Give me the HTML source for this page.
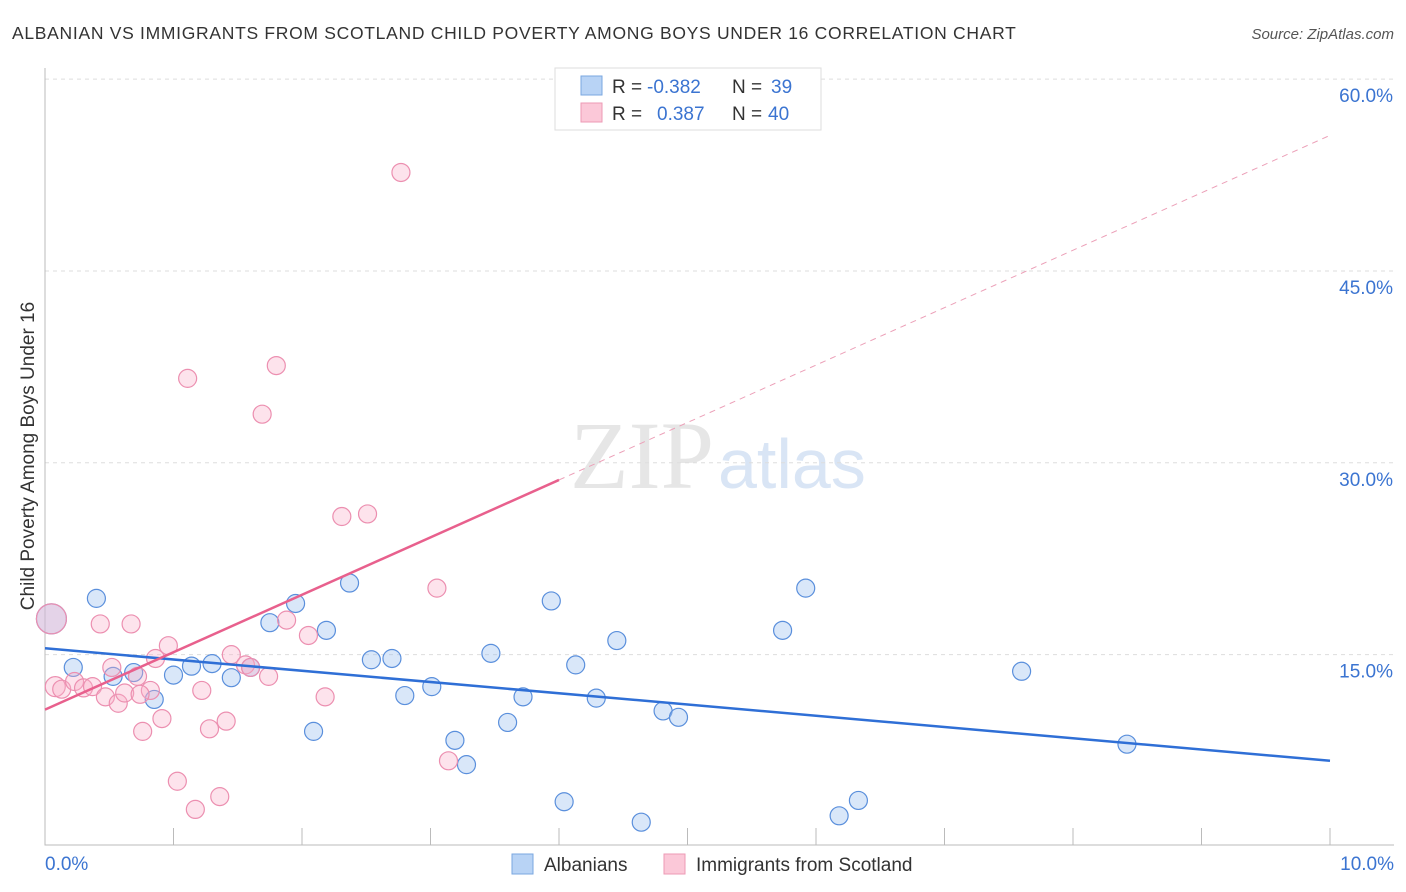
<!DOCTYPE html>
<html><head><meta charset="utf-8"><style>
body{margin:0;background:#fff;font-family:"Liberation Sans",sans-serif;}
#wrap{position:relative;width:1406px;height:892px;overflow:hidden;}
</style></head><body>
<div id="wrap">
<svg id="svg" width="1406" height="892" xmlns="http://www.w3.org/2000/svg">
<text x="12" y="39" font-size="17.5" fill="#333" letter-spacing="0.7">ALBANIAN VS IMMIGRANTS FROM SCOTLAND CHILD POVERTY AMONG BOYS UNDER 16 CORRELATION CHART</text>
<text x="1394" y="39" font-size="15" fill="#555" font-style="italic" text-anchor="end">Source: ZipAtlas.com</text>
<text x="714" y="488" font-size="96" fill="#e6e6e6" text-anchor="end" font-family="Liberation Serif,serif">ZIP</text>
<text x="718" y="488" font-size="70" fill="#d9e5f5">atlas</text>
<text transform="translate(34,456) rotate(-90)" font-size="19" fill="#333" text-anchor="middle">Child Poverty Among Boys Under 16</text>
<g id="grid"></g><g id="axes"></g><g id="pts"></g><g id="lines"></g>
<g>
<rect x="555" y="68" width="266" height="62" fill="#fff" stroke="#ddd"/>
<rect x="581" y="76" width="21" height="19" fill="#b8d3f5" stroke="#7aa7e0"/>
<rect x="581" y="103" width="21" height="19" fill="#fbc8d8" stroke="#ec9ab5"/>
<text x="612" y="93" font-size="19" fill="#333">R =</text><text x="647" y="93" font-size="19" fill="#3b74d1">-0.382</text>
<text x="732" y="93" font-size="19" fill="#333">N =</text><text x="771" y="93" font-size="19" fill="#3b74d1">39</text>
<text x="612" y="120" font-size="19" fill="#333">R =</text><text x="657" y="120" font-size="19" fill="#3b74d1">0.387</text>
<text x="732" y="120" font-size="19" fill="#333">N =</text><text x="768" y="120" font-size="19" fill="#3b74d1">40</text>
</g>
<g>
<rect x="512" y="854" width="21" height="20" fill="#b8d3f5" stroke="#7aa7e0"/>
<text x="544" y="871" font-size="19" fill="#333">Albanians</text>
<rect x="664" y="854" width="21" height="20" fill="#fbc8d8" stroke="#ec9ab5"/>
<text x="696" y="871" font-size="19" fill="#333">Immigrants from Scotland</text>
</g>
</svg>
<script>
const yTicks=[15,30,45,60];
const yTickLabels=["15.0%","30.0%","45.0%","60.0%"];
const xTicks=[0,1,2,3,4,5,6,7,8,9,10];
const blueX=[0.05,0.40,0.22,0.53,0.69,0.85,1.00,1.14,1.30,1.45,1.60,1.75,1.95,2.09,2.19,2.37,2.54,2.70,2.80,3.01,3.19,3.28,3.47,3.60,3.72,3.94,4.04,4.13,4.29,4.45,4.64,4.81,4.93,5.74,5.92,6.18,6.33,7.60,8.42];
const blueY=[17.8,19.4,14.0,13.3,13.6,11.5,13.4,14.1,14.3,13.2,14.0,17.5,19.0,9.0,16.9,20.6,14.6,14.7,11.8,12.5,8.3,6.4,15.1,9.7,11.7,19.2,3.5,14.2,11.6,16.1,1.9,10.6,10.1,16.9,20.2,2.4,3.6,13.7,8.0];
const pinkX=[0.05,0.08,0.13,0.23,0.30,0.37,0.43,0.47,0.52,0.57,0.62,0.67,0.72,0.76,0.82,0.86,0.91,0.96,1.03,1.11,1.17,1.22,1.28,1.36,1.41,1.45,1.56,1.69,1.74,1.80,1.88,2.05,2.18,2.31,2.51,2.77,3.05,3.14,0.74,1.60];
const pinkY=[17.8,12.5,12.3,12.9,12.4,12.5,17.4,11.7,14.0,11.2,12.0,17.4,13.3,9.0,12.2,14.7,10.0,15.7,5.1,36.6,2.9,12.2,9.2,3.9,9.8,15.0,14.2,33.8,13.3,37.6,17.7,16.5,11.7,25.8,26.0,52.7,20.2,6.7,11.9,14.0];
const blueTrend=[15.5,6.7];
const pinkTrend=[10.7,55.6];
const ns="http://www.w3.org/2000/svg";
function sx(v){return 45+v/10*1285;}
function sy(v){return 846.5-v*12.79;}
function mk(t,a,p){const e=document.createElementNS(ns,t);for(const k in a)e.setAttribute(k,a[k]);document.getElementById(p).appendChild(e);return e;}
yTicks.forEach((t,i)=>{
 const g=mk('line',{x1:45,x2:1394,y1:sy(t),y2:sy(t),stroke:'#ddd','stroke-dasharray':'4,4'},'grid');
 
 
 const l=mk('text',{x:1393,y:sy(t)+23,'font-size':19,fill:'#3b74d1','text-anchor':'end'},'grid');
 l.textContent=yTickLabels[i];
 
 
});
const ax=mk('path',{d:'M45,68V845H1394',stroke:'#bbb',fill:'none'},'axes');


xTicks.forEach(t=>{
 if(t===0)return;
 const k=mk('line',{x1:sx(t),x2:sx(t),y1:828,y2:845,stroke:'#bbb'},'axes');
 
 
});
[[0,'0.0%','start',45],[10,'10.0%','end',1394]].forEach(a=>{
 const l=mk('text',{x:a[3],y:870,'font-size':19,fill:'#3b74d1','text-anchor':a[2]},'axes');
 l.textContent=a[1];
 
 
});
function pts(X,Y,fill,stroke,name){X.forEach((x,i)=>{
 const r=i===0?15:(i===1&&name==='scotland-point'?10:9);
 const c=mk('circle',{cx:sx(x),cy:sy(Y[i]),r:r,fill:fill,stroke:stroke,'stroke-width':1.2},'pts');
 
 
});}
pts(blueX,blueY,'rgba(160,195,240,0.4)','#5a8fdc','albanian-point');
pts(pinkX,pinkY,'rgba(248,175,200,0.35)','#ec8fb0','scotland-point');
const b=mk('line',{x1:sx(0),y1:sy(blueTrend[0]),x2:sx(10),y2:sy(blueTrend[1]),stroke:'#2f6fd6','stroke-width':2.5},'lines');


const pm=x=>pinkTrend[0]+(pinkTrend[1]-pinkTrend[0])*x/10;
const p1=mk('line',{x1:sx(0),y1:sy(pm(0)),x2:sx(4),y2:sy(pm(4)),stroke:'#e8608d','stroke-width':2.5},'lines');


const p2=mk('line',{x1:sx(4),y1:sy(pm(4)),x2:sx(10),y2:sy(pm(10)),stroke:'#eca0b8','stroke-width':1,'stroke-dasharray':'6,5'},'lines');


</script>
</div>
</body></html>
